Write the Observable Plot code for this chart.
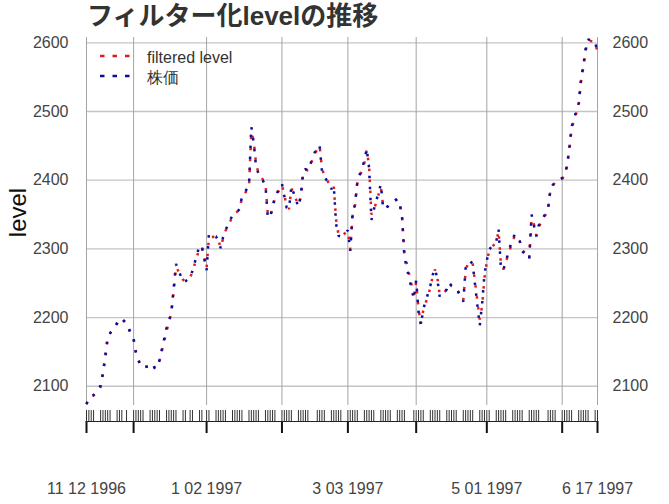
<!DOCTYPE html>
<html><head><meta charset="utf-8">
<script src="https://cdn.jsdelivr.net/npm/d3@7"></script>
<script src="https://cdn.jsdelivr.net/npm/@observablehq/plot@0.6"></script>
<style>
body{margin:0;background:#fff;width:669px;height:504px;overflow:hidden;position:relative;font-family:"Liberation Sans",Arial,sans-serif}
#title{height:34px;padding-left:87px;font-family:"Liberation Sans","Noto Sans CJK JP",sans-serif;font-weight:700;font-size:26px;line-height:33px;color:#333;white-space:nowrap}
.lg{position:absolute;font-size:16px;color:#333;line-height:18px;white-space:nowrap}
</style></head><body>
<div id="title">フィルター化levelの推移</div>
<div id="chart"></div>
<div id="legend"></div>
<script>
const dates = [
"1996-11-12","1996-11-13","1996-11-14","1996-11-15","1996-11-18","1996-11-19","1996-11-20","1996-11-21","1996-11-22","1996-11-25","1996-11-26","1996-11-27","1996-11-29",
"1996-12-02","1996-12-03","1996-12-04","1996-12-05","1996-12-06","1996-12-09","1996-12-10","1996-12-11","1996-12-12","1996-12-13","1996-12-16","1996-12-17","1996-12-18","1996-12-19","1996-12-20","1996-12-23","1996-12-24","1996-12-26","1996-12-27","1996-12-30","1996-12-31",
"1997-01-02","1997-01-03","1997-01-06","1997-01-07","1997-01-08","1997-01-09","1997-01-10","1997-01-13","1997-01-14","1997-01-15","1997-01-16","1997-01-17","1997-01-20","1997-01-21","1997-01-22","1997-01-23","1997-01-24","1997-01-27","1997-01-28","1997-01-29","1997-01-30","1997-01-31",
"1997-02-03","1997-02-04","1997-02-05","1997-02-06","1997-02-07","1997-02-10","1997-02-11","1997-02-12","1997-02-13","1997-02-14","1997-02-18","1997-02-19","1997-02-20","1997-02-21","1997-02-24","1997-02-25","1997-02-26","1997-02-27","1997-02-28",
"1997-03-03","1997-03-04","1997-03-05","1997-03-06","1997-03-07","1997-03-10","1997-03-11","1997-03-12","1997-03-13","1997-03-14","1997-03-17","1997-03-18","1997-03-19","1997-03-20","1997-03-21","1997-03-24","1997-03-25","1997-03-26","1997-03-27","1997-03-31",
"1997-04-01","1997-04-02","1997-04-03","1997-04-04","1997-04-07","1997-04-08","1997-04-09","1997-04-10","1997-04-11","1997-04-14","1997-04-15","1997-04-16","1997-04-17","1997-04-18","1997-04-21","1997-04-22","1997-04-23","1997-04-24","1997-04-25","1997-04-28","1997-04-29","1997-04-30",
"1997-05-01","1997-05-02","1997-05-05","1997-05-06","1997-05-07","1997-05-08","1997-05-09","1997-05-12","1997-05-13","1997-05-14","1997-05-15","1997-05-16","1997-05-19","1997-05-20","1997-05-21","1997-05-22","1997-05-23","1997-05-27","1997-05-28","1997-05-29","1997-05-30",
"1997-06-02","1997-06-03","1997-06-04","1997-06-05","1997-06-06","1997-06-09","1997-06-10","1997-06-11","1997-06-12","1997-06-13","1997-06-16","1997-06-17"
];
const stockPrice = [
2074,2083,2086,2087,2101,2120,2145,2172,2177,2192,2196,2199,2190,
2168,2148,2138,2130,2127,2130,2133,2126,2127,2138,2185,2195,2207,2242,2278,2252,2253,2258,2268,2305,2303,
2269,2322,2318,2311,2301,2317,2327,2349,2352,2354,2358,2376,2392,2478,2455,2420,2410,2393,2345,2347,2360,2376,
2395,2377,2360,2358,2391,2361,2377,2414,2416,2414,2450,2450,2413,2406,2387,2392,2336,2319,2318,
2327,2297,2353,2364,2398,2428,2446,2418,2342,2357,2394,2358,2359,2362,2366,2373,2366,2346,2288,2227,
2254,2208,2189,2212,2246,2262,2271,2256,2230,2241,2251,2246,2245,2243,2223,2272,2281,2282,2278,2188,2220,2263,
2283,2299,2311,2328,2271,2269,2281,2316,2321,2313,2311,2297,2285,2350,2334,2318,2334,2358,2388,2393,2397,
2403,2409,2420,2446,2478,2512,2547,2567,2592,2605,2602,2584
];
const filteredLevel = [
2074,2082,2086,2087,2099,2118,2142,2169,2177,2191,2196,2199,2191,
2170,2150,2139,2131,2127,2130,2133,2127,2127,2137,2180,2194,2206,2238,2274,2255,2253,2258,2267,2301,2303,
2272,2317,2318,2312,2302,2315,2326,2347,2352,2354,2358,2374,2390,2470,2457,2424,2411,2395,2350,2347,2359,2374,
2393,2379,2362,2358,2388,2364,2375,2410,2416,2414,2446,2450,2417,2407,2389,2391,2342,2321,2318,
2326,2300,2348,2363,2395,2425,2444,2421,2350,2356,2390,2362,2359,2362,2366,2372,2367,2348,2294,2233,
2251,2213,2191,2210,2243,2260,2270,2258,2233,2240,2250,2247,2245,2243,2225,2267,2280,2282,2279,2197,2217,2258,
2281,2297,2310,2326,2277,2270,2280,2312,2320,2314,2311,2299,2286,2344,2336,2320,2332,2356,2385,2392,2397,
2402,2408,2419,2443,2475,2509,2543,2565,2589,2603,2602,2586
];
const majorTicks = ["1996-11-12","1996-12-02","1997-01-02","1997-02-03","1997-03-03","1997-04-01","1997-05-01","1997-06-02","1997-06-17"];
const labeledTicks = ["1996-11-12","1997-01-02","1997-03-03","1997-05-01","1997-06-17"];
const yTicks = [2100,2200,2300,2400,2500,2600];
const seriesNames = ["filtered level","株価"];
const seriesColors = ["#e01c1c","#0c0c9e"];

const parse = d3.utcParse("%Y-%m-%d");
const D = dates.map(parse);
const majorD = majorTicks.map(parse);
const labelD = labeledTicks.map(parse);
const fmt = d3.utcFormat("%-m %d %Y");
const redRows = D.map((d,i)=>({date:d, value:filteredLevel[i]}));
const blueRows = D.map((d,i)=>({date:d, value:stockPrice[i]}));

const dotted = {strokeWidth:2.5, strokeDasharray:"2.5 8.5", strokeLinecap:"butt", strokeLinejoin:"miter"};

const chart = Plot.plot({
  width: 669, height: 470,
  marginTop: 3, marginBottom: 99, marginLeft: 86, marginRight: 72,
  x: {type:"utc", domain:[D[0], D[D.length-1]]},
  y: {domain:[2072, 2607.7]},
  style: {fontFamily:"Liberation Sans, Arial, sans-serif", fontSize:"16px", color:"#444", background:"#fff"},
  marks: [
    Plot.gridY(yTicks, {stroke:"#c4c4c4", strokeOpacity:1, strokeWidth:1.3}),
    Plot.gridX(majorD, {stroke:"#a4a4a4", strokeOpacity:1, strokeWidth:1}),
    Plot.axisY(yTicks, {anchor:"left", tickSize:0, tickPadding:18, label:null, fontSize:16, fill:"#444", tickFormat:d=>String(d)}),
    Plot.axisY(yTicks, {anchor:"right", tickSize:0, tickPadding:15, label:null, fontSize:16, fill:"#444", tickFormat:d=>String(d)}),
    Plot.axisX(D, {tickSize:11, dy:5, tickFormat:()=>"", label:null, stroke:"#333", strokeWidth:1}),
    Plot.axisX(majorD, {tickSize:12, dy:16, tickFormat:()=>"", label:null, stroke:"#111", strokeWidth:2}),
    Plot.text(labelD, {x:d=>d, frameAnchor:"bottom", dy:88, text:d=>fmt(d), fill:"#444", fontSize:16}),
    Plot.frame({anchor:"bottom", dy:16, stroke:"#222", strokeWidth:1.2}),
    Plot.line(redRows, {x:"date", y:"value", stroke:seriesColors[0], ...dotted}),
    Plot.line(blueRows, {x:"date", y:"value", stroke:seriesColors[1], ...dotted}),
    Plot.text(["level"], {frameAnchor:"left", textAnchor:"middle", dx:-68, dy:-9, rotate:-90, fontSize:24, fill:"#111", text:d=>d})
  ]
});
document.getElementById("chart").appendChild(chart);

// legend
const lg = document.getElementById("legend");
seriesNames.forEach((name,i)=>{
  const top = 47 + i*20;
  const sw = document.createElementNS("http://www.w3.org/2000/svg","svg");
  sw.setAttribute("width","34"); sw.setAttribute("height","10");
  sw.style.position="absolute"; sw.style.left="99px"; sw.style.top=(top+4)+"px";
  const ln = document.createElementNS("http://www.w3.org/2000/svg","line");
  ln.setAttribute("x1","1"); ln.setAttribute("x2","33"); ln.setAttribute("y1","5"); ln.setAttribute("y2","5");
  ln.setAttribute("stroke",seriesColors[i]); ln.setAttribute("stroke-width","2.5");
  ln.setAttribute("stroke-dasharray","4.5 8");
  sw.appendChild(ln); lg.appendChild(sw);
  const t = document.createElement("div");
  t.className="lg"; t.textContent=name; t.style.left="147px"; t.style.top=(top+2)+"px";
  lg.appendChild(t);
});
</script>
</body></html>
